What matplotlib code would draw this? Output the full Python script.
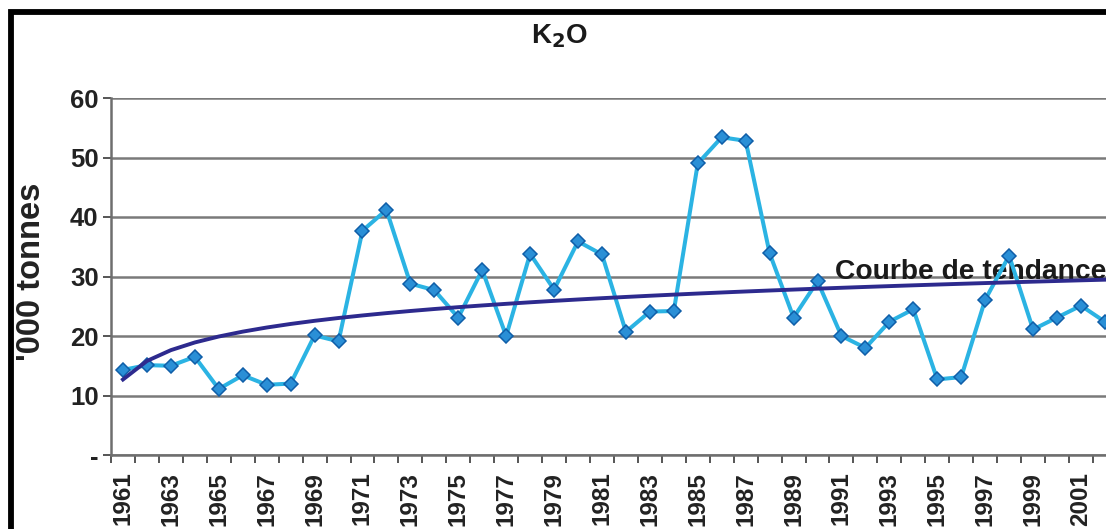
import numpy as np
import matplotlib
matplotlib.use("Agg")
import matplotlib.pyplot as plt
from matplotlib.patches import Rectangle
from matplotlib.ticker import FixedLocator

plt.rcParams['font.family'] = ['Liberation Sans', 'DejaVu Sans']

# K2O consumption, thousand tonnes
years = list(range(1961, 2003))
k2o = [14.3, 15.1, 15.0, 16.5, 11.1, 13.4, 11.8, 12.0, 20.1, 19.1,
       37.7, 41.2, 28.8, 27.7, 23.1, 31.1, 20.0, 33.8, 27.8, 35.9,
       33.7, 20.7, 24.1, 24.2, 49.0, 53.4, 52.8, 33.9, 23.1, 29.2,
       20.0, 18.0, 22.4, 24.5, 12.7, 13.1, 26.1, 33.5, 21.1, 23.1,
       25.1, 22.4]
y_ticks = [0, 10, 20, 30, 40, 50, 60]
y_tick_labels = ['-', '10', '20', '30', '40', '50', '60']
title = 'K$_\\mathbf{2}$O'
y_label = "'000 tonnes"
trend_label = 'Courbe de tendance'

W, H = 1106, 529
fig = plt.figure(figsize=(W / 100, H / 100), dpi=100)
fig.patch.set_facecolor('white')

# outer chart frame (left and top edges visible)
fig.patches.append(Rectangle((10.5 / W, -0.2), 1.5, (H - 12.5) / H + 0.2,
                             transform=fig.transFigure, fill=False,
                             edgecolor='black', linewidth=4.2, zorder=0))

ax_left, ax_bottom, ax_top = 111 / W, (H - 455) / H, (H - 98) / H
ax = fig.add_axes([ax_left, ax_bottom, 1 - ax_left, ax_top - ax_bottom])
ax.set_facecolor('white')

x = np.array(years, dtype=float)
y = np.array(k2o)

# logarithmic trend fitted to the series
idx = np.arange(1, len(years) + 1)
slope, intercept = np.polyfit(np.log(idx), y, 1)
trend = slope * np.log(idx) + intercept

ax.plot(x, y, color='#2bb3e3', linewidth=2.9, zorder=3,
        marker='D', markersize=7.2, markerfacecolor='#2a8fd6',
        markeredgecolor='#0f5ea8', markeredgewidth=1.1)
ax.plot(x, trend, color='#2d2a8e', linewidth=2.8, zorder=4)

# trend label sits under the plotted lines
ax.text(1990.72, 29.6, trend_label, fontsize=20.3, fontweight='bold',
        color='#1a1a1a', ha='left', va='baseline', zorder=2.5)

ax.set_xlim(1960.5, 1960.5 + (W - 111) / 23.95)
ax.set_ylim(0, 60)

ax.set_yticks(y_ticks)
ax.set_yticklabels(y_tick_labels, fontsize=18.5, fontweight='bold', color='#222222')
ax.yaxis.grid(True, color='#7a7a7a', linewidth=1.8)
ax.set_axisbelow(True)

ax.xaxis.set_major_locator(FixedLocator(years[::2]))
ax.set_xticklabels([str(v) for v in years[::2]], rotation=90,
                   fontsize=17.5, fontweight='bold', color='#222222')
ax.xaxis.set_minor_locator(FixedLocator(np.arange(1960.5, 2003, 1.0)))
ax.tick_params(axis='x', which='major', length=0, pad=12)
ax.tick_params(axis='x', which='minor', length=5.5, width=1.4, color='#555555',
               direction='out')
ax.tick_params(axis='y', length=6, width=1.4, color='#555555', pad=3)

for side in ('top', 'right'):
    ax.spines[side].set_visible(False)
for side in ('left', 'bottom'):
    ax.spines[side].set_color('#6e6e6e')
    ax.spines[side].set_linewidth(1.8)

fig.text(560 / W, 1 - 36 / H, title, fontsize=20, fontweight='bold',
         ha='center', va='center', color='#1a1a1a')
fig.text(32 / W, 1 - 272 / H, y_label, fontsize=23.5, fontweight='bold',
         rotation=90, ha='center', va='center', color='#222222')

fig.savefig('out.png', dpi=100, facecolor='white')
